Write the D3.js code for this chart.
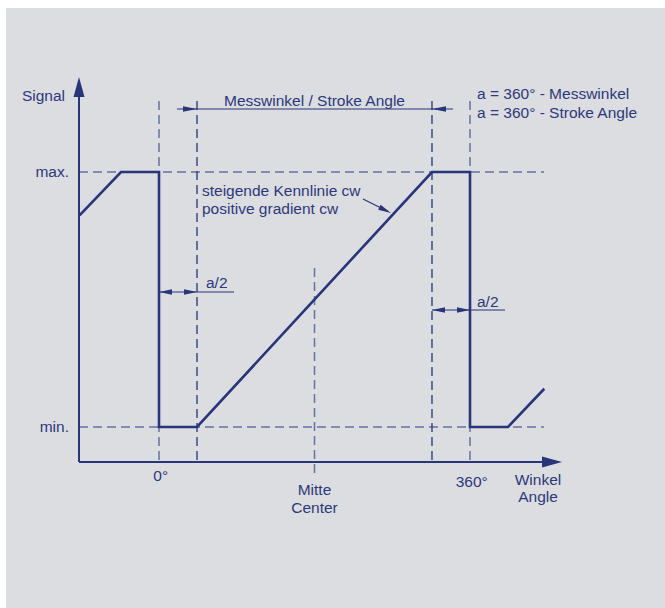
<!DOCTYPE html>
<html>
<head>
<meta charset="utf-8">
<script src="https://cdn.jsdelivr.net/npm/d3@7"></script>
<style>
  html, body { margin: 0; padding: 0; background: #fff; }
  svg { display: block; }
  text { font-family: "Liberation Sans", Arial, sans-serif; font-size: 15.5px; fill: #2c387b; }
</style>
</head>
<body>
<svg width="665" height="608"></svg>
<script>
// signal curve, angle in degrees, signal in % of range (min = 0, max = 100)
const curveAngles = [-92, -44, 0, 0, 44, 316, 360, 360, 404, 446];
const curveValues = [83, 100, 100, 0, 0, 100, 100, 0, 0, 15];
// vertical guides
const guideAngles = [0, 44, 180, 316, 360];
const guideStrong = [false, true, false, true, false];
const guideTop = [101, 101, 268, 101, 101];
const guideBottom = [462, 462, 478, 462, 462];
// levels
const levelValues = [100, 0];
const levelLabels = ["max.", "min."];
// angle labels under the axis
const tickAngles = [2, 180, 362];
const tickLabels = [["0°"], ["Mitte", "Center"], ["360°"]];

const svg = d3.select("svg");
const ink = "#283579";
const dashInk = "#6571a0";

svg.append("rect")
    .attr("x", 6).attr("y", 8)
    .attr("width", 659).attr("height", 600)
    .attr("fill", "#dcdde0");

const x = d3.scaleLinear().domain([0, 360]).range([159, 470]);
const y = d3.scaleLinear().domain([0, 100]).range([427, 172]);

const axisX = 79, axisY = 462;

function arrowHead(g, tipX, tipY, dx, dy, len, half) {
    // dx,dy unit direction the arrow points to
    const bx = tipX - dx * len, by = tipY - dy * len;
    const px = -dy * half, py = dx * half;
    g.append("path")
        .attr("d", `M${tipX},${tipY}L${bx + px},${by + py}L${bx - px},${by - py}Z`)
        .attr("fill", ink);
}

// dashed level lines
svg.selectAll(".level")
    .data(levelValues)
    .enter()
    .append("line")
    .attr("class", "level")
    .attr("x1", axisX).attr("x2", 544)
    .attr("y1", d => y(d)).attr("y2", d => y(d))
    .attr("stroke", dashInk).attr("stroke-width", 1.4)
    .attr("stroke-dasharray", "9,5");

// dashed vertical guides
svg.selectAll(".guide")
    .data(guideAngles)
    .enter()
    .append("line")
    .attr("class", "guide")
    .attr("x1", d => x(d)).attr("x2", d => x(d))
    .attr("y1", (d, i) => guideTop[i]).attr("y2", (d, i) => guideBottom[i])
    .attr("stroke", (d, i) => guideStrong[i] ? ink : dashInk)
    .attr("stroke-width", (d, i) => guideStrong[i] ? 1.3 : 1.5)
    .attr("stroke-dasharray", "9,5");

// axes
const axes = svg.append("g");
axes.append("line")
    .attr("x1", axisX).attr("x2", axisX)
    .attr("y1", axisY).attr("y2", 92)
    .attr("stroke", ink).attr("stroke-width", 2);
arrowHead(axes, axisX, 77, 0, -1, 20, 5.5);
axes.append("line")
    .attr("x1", axisX).attr("x2", 548)
    .attr("y1", axisY).attr("y2", axisY)
    .attr("stroke", ink).attr("stroke-width", 2);
arrowHead(axes, 562, axisY, 1, 0, 20, 5.5);

// signal curve
const line = d3.line()
    .x(d => x(d[0]))
    .y(d => y(d[1]));
svg.append("path")
    .datum(d3.zip(curveAngles, curveValues))
    .attr("d", line)
    .attr("fill", "none")
    .attr("stroke", ink)
    .attr("stroke-width", 2.6)
    .attr("stroke-linejoin", "miter");

// dimension: stroke angle
const dim = svg.append("g");
dim.append("line")
    .attr("x1", x(44) - 20).attr("x2", x(316) + 21)
    .attr("y1", 109).attr("y2", 109)
    .attr("stroke", ink).attr("stroke-width", 1.2);
arrowHead(dim, x(44), 109, 1, 0, 14, 2.8);
arrowHead(dim, x(316), 109, -1, 0, 14, 2.8);
dim.append("text")
    .attr("x", x(180)).attr("y", 106)
    .attr("text-anchor", "middle")
    .text("Messwinkel / Stroke Angle");

// dimension: a/2 left and right
function halfDim(from, to, yy, ext, lx, ly) {
    const g = svg.append("g");
    g.append("line")
        .attr("x1", x(from)).attr("x2", ext)
        .attr("y1", yy).attr("y2", yy)
        .attr("stroke", ink).attr("stroke-width", 1.2);
    arrowHead(g, x(from), yy, -1, 0, 13, 2.8);
    arrowHead(g, x(to), yy, 1, 0, 13, 2.8);
    g.append("text").attr("x", lx).attr("y", ly).text("a/2");
}
halfDim(0, 44, 292, 234, 206, 288);
halfDim(316, 360, 310, 505, 477, 307);

// annotation of the gradient
svg.append("line")
    .attr("x1", 363).attr("y1", 199)
    .attr("x2", 382).attr("y2", 208.5)
    .attr("stroke", ink).attr("stroke-width", 1.2);
arrowHead(svg, 391, 213, 28 / 31.3, 14 / 31.3, 13, 2.8);
svg.append("text").attr("x", 202).attr("y", 196).text("steigende Kennlinie cw");
svg.append("text").attr("x", 202).attr("y", 214).text("positive gradient cw");

// note at top right
svg.append("text").attr("x", 477).attr("y", 99).text("a = 360° - Messwinkel");
svg.append("text").attr("x", 477).attr("y", 118).text("a = 360° - Stroke Angle");

// axis titles
svg.append("text").attr("x", 65).attr("y", 101)
    .attr("text-anchor", "end").text("Signal");
svg.selectAll(".lvl")
    .data(levelValues)
    .enter()
    .append("text")
    .attr("class", "lvl")
    .attr("x", 69).attr("y", d => y(d) + 5)
    .attr("text-anchor", "end")
    .text((d, i) => levelLabels[i]);

const ticks = svg.selectAll(".tick")
    .data(tickAngles)
    .enter()
    .append("text")
    .attr("class", "tick")
    .attr("text-anchor", "middle")
    .attr("y", (d, i) => i === 1 ? 495 : (i === 0 ? 481 : 487));
ticks.selectAll("tspan")
    .data((d, i) => tickLabels[i].map(t => [d, t]))
    .enter()
    .append("tspan")
    .attr("x", d => x(d[0]))
    .attr("dy", (d, j) => j === 0 ? 0 : 18)
    .text(d => d[1]);

const wl = svg.append("text").attr("text-anchor", "middle").attr("y", 485);
wl.append("tspan").attr("x", 538).text("Winkel");
wl.append("tspan").attr("x", 538).attr("dy", 17).text("Angle");
</script>
</body>
</html>
